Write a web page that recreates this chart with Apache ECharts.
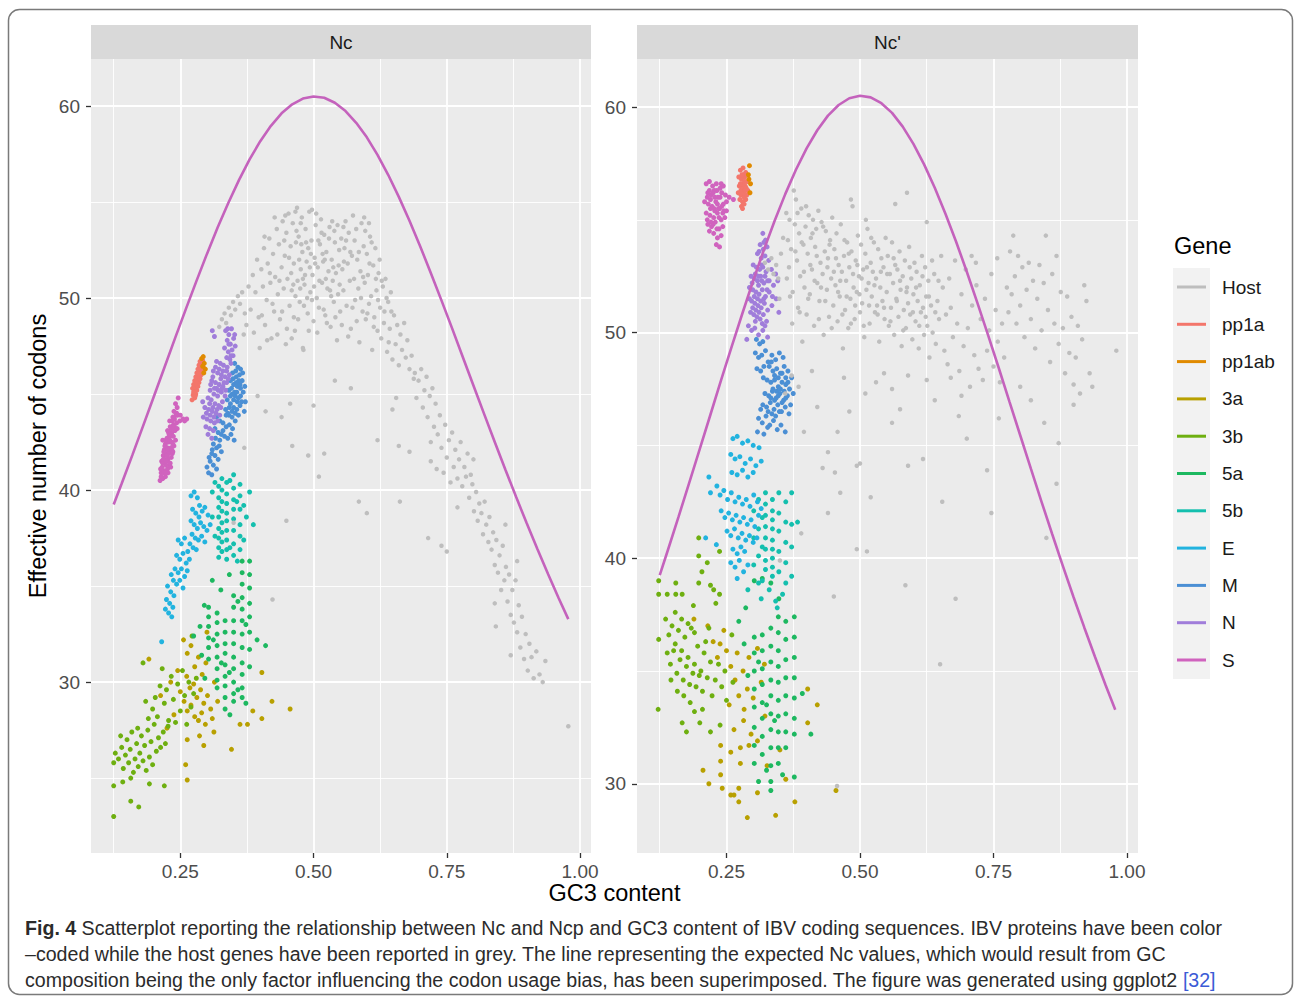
<!DOCTYPE html>
<html><head><meta charset="utf-8">
<script src="https://cdn.jsdelivr.net/npm/echarts@6/dist/echarts.min.js"></script>
<style>html,body{margin:0;padding:0;background:#fff}#c{width:1294px;height:999px}</style>
</head><body><div id="c"></div>
<script>
// ---------- tick values ----------
const xMajor = [0.25, 0.5, 0.75, 1.0];
const xMinor = [0.125, 0.375, 0.625, 0.875];
const yMajorNc = [30, 40, 50, 60];
const yMinorNc = [25, 35, 45, 55];
const yMajorNcp = [30, 40, 50, 60];
const yMinorNcp = [35, 45, 55];

// ---------- expected Nc curve (GC3 -> Nc) ----------
const curveGC3 = [0.125,0.14,0.16,0.18,0.2,0.22,0.24,0.26,0.28,0.3,0.32,0.34,0.36,0.38,0.4,0.42,0.44,0.46,0.48,0.5,0.52,0.54,0.56,0.58,0.6,0.62,0.64,0.66,0.68,0.7,0.72,0.74,0.76,0.78,0.8,0.82,0.84,0.86,0.88,0.9,0.92,0.94,0.96,0.978];
const curveNc = [39.25,40.34,41.82,43.33,44.85,46.37,47.9,49.4,50.87,52.3,53.67,54.95,56.14,57.22,58.17,58.97,59.62,60.09,60.39,60.5,60.43,60.17,59.74,59.13,58.37,57.46,56.42,55.27,54.03,52.7,51.31,49.88,48.42,46.93,45.45,43.97,42.5,41.06,39.65,38.27,36.93,35.63,34.37,33.28];

// ---------- panel "Nc" ----------
const nc_pp1a = [[0.272,44.7],[0.277,44.8],[0.274,44.95],[0.279,45.0],[0.276,45.15],[0.281,45.2],[0.273,45.3],[0.278,45.35],[0.283,45.4],[0.275,45.5],[0.28,45.55],[0.285,45.6],[0.277,45.7],[0.282,45.75],[0.287,45.8],[0.279,45.9],[0.284,45.95],[0.289,46.0],[0.281,46.1],[0.286,46.15],[0.291,46.2],[0.283,46.3],[0.288,46.35],[0.293,46.4],[0.285,46.5],[0.29,46.55],[0.287,46.7],[0.292,46.75],[0.275,45.1],[0.28,45.65],[0.284,46.05],[0.278,44.9]];
const nc_pp1ab = [[0.29,46.85],[0.293,46.95],[0.295,46.6],[0.297,46.3],[0.294,46.1],[0.292,46.45]];
const nc_3a = [[0.191,31.2],[0.256,32.2],[0.263,31.5],[0.27,31.9],[0.277,30.8],[0.284,31.3],[0.291,30.4],[0.298,31.0],[0.262,30.3],[0.268,29.7],[0.275,29.9],[0.281,29.2],[0.288,29.6],[0.294,28.9],[0.301,29.3],[0.307,28.6],[0.257,29.0],[0.263,28.5],[0.27,28.8],[0.277,28.2],[0.284,28.0],[0.29,28.4],[0.297,27.8],[0.31,28.1],[0.314,30.0],[0.32,29.0],[0.245,30.6],[0.25,29.5],[0.238,28.3],[0.232,30.0],[0.422,29.0],[0.456,28.6],[0.403,28.1],[0.403,30.5],[0.386,28.5],[0.362,27.8],[0.376,27.8],[0.346,26.5],[0.263,24.9],[0.26,25.7],[0.294,26.7],[0.313,27.4],[0.263,27.0],[0.225,27.6],[0.213,29.3],[0.3,32.6],[0.286,27.2]];
const nc_3b = [[0.125,25.8],[0.128,26.3],[0.134,26.0],[0.14,26.6],[0.143,25.5],[0.147,26.2],[0.15,27.0],[0.153,25.8],[0.156,26.5],[0.159,27.4],[0.162,25.3],[0.165,26.0],[0.168,26.8],[0.171,25.6],[0.174,26.3],[0.177,27.2],[0.18,25.9],[0.183,26.7],[0.186,25.4],[0.189,27.5],[0.192,26.1],[0.195,26.9],[0.198,25.7],[0.201,27.8],[0.205,26.4],[0.209,27.1],[0.213,26.6],[0.218,27.4],[0.222,26.8],[0.227,27.7],[0.157,25.0],[0.138,27.2],[0.17,27.6],[0.198,28.6],[0.203,29.2],[0.207,28.2],[0.212,29.8],[0.216,30.7],[0.22,28.9],[0.224,29.6],[0.228,28.0],[0.233,30.3],[0.237,29.1],[0.241,27.9],[0.245,29.9],[0.25,28.5],[0.254,30.6],[0.258,29.3],[0.262,27.8],[0.266,30.0],[0.27,28.7],[0.275,29.4],[0.28,30.2],[0.272,32.4],[0.19,28.1],[0.185,29.0],[0.125,23.0],[0.125,24.6],[0.157,23.8],[0.172,23.5],[0.192,24.7],[0.22,24.6],[0.142,24.8],[0.18,31.0]];
const nc_5a = [[0.303,33.9],[0.303,33.4],[0.303,32.9],[0.303,32.3],[0.303,31.8],[0.303,31.2],[0.319,33.6],[0.319,33.1],[0.319,32.5],[0.319,31.9],[0.319,31.3],[0.319,30.7],[0.319,30.1],[0.319,29.7],[0.334,33.2],[0.334,32.6],[0.334,32.0],[0.334,31.5],[0.334,30.9],[0.334,30.3],[0.334,29.8],[0.334,29.2],[0.334,28.6],[0.35,34.5],[0.35,33.9],[0.35,33.2],[0.35,32.6],[0.35,32.0],[0.35,31.3],[0.35,30.7],[0.35,30.0],[0.35,29.4],[0.35,29.0],[0.366,36.3],[0.366,35.7],[0.366,35.1],[0.366,34.4],[0.366,33.8],[0.366,33.2],[0.366,32.5],[0.366,31.8],[0.366,31.0],[0.366,30.4],[0.366,29.7],[0.366,29.2],[0.38,36.3],[0.38,35.6],[0.38,34.9],[0.38,34.1],[0.38,33.4],[0.38,32.6],[0.38,31.7],[0.38,30.8],[0.394,32.2],[0.41,31.9],[0.275,32.4],[0.287,32.9],[0.295,34.0],[0.31,35.3],[0.326,34.8],[0.342,35.6],[0.358,34.2],[0.373,33.0],[0.342,30.5],[0.358,29.6],[0.312,32.2],[0.327,31.0],[0.29,31.4],[0.296,30.2],[0.373,28.9],[0.343,28.3]];
const nc_5b = [[0.322,40.2],[0.322,39.6],[0.322,39.1],[0.322,38.6],[0.322,38.0],[0.322,37.5],[0.322,37.0],[0.322,36.5],[0.328,40.6],[0.328,40.0],[0.328,39.4],[0.328,38.9],[0.328,38.3],[0.328,37.8],[0.328,37.3],[0.328,36.8],[0.337,40.4],[0.337,39.8],[0.337,39.3],[0.337,38.8],[0.337,38.4],[0.337,37.9],[0.337,37.4],[0.337,36.9],[0.337,36.4],[0.35,40.8],[0.35,40.1],[0.35,39.5],[0.35,39.0],[0.35,38.5],[0.35,37.9],[0.35,37.2],[0.35,36.6],[0.362,40.3],[0.362,39.7],[0.362,39.0],[0.362,38.2],[0.362,37.6],[0.362,36.9],[0.31,39.9],[0.315,40.4],[0.343,40.5],[0.356,39.4],[0.369,39.2],[0.374,38.6],[0.38,39.9],[0.387,38.2],[0.315,37.6],[0.343,37.0],[0.357,36.3],[0.31,38.6],[0.369,37.4]];
const nc_E = [[0.27,39.7],[0.276,39.9],[0.282,39.6],[0.286,39.2],[0.273,39.0],[0.279,38.8],[0.285,38.6],[0.291,38.9],[0.296,39.1],[0.302,38.7],[0.27,38.4],[0.276,38.2],[0.282,38.0],[0.288,38.3],[0.294,38.1],[0.3,37.9],[0.306,38.2],[0.272,37.7],[0.278,37.5],[0.284,37.4],[0.29,37.6],[0.296,37.3],[0.268,37.2],[0.274,37.0],[0.28,36.9],[0.246,37.4],[0.252,37.2],[0.258,37.5],[0.264,36.8],[0.243,36.6],[0.249,36.4],[0.255,36.7],[0.261,36.2],[0.267,36.4],[0.24,35.9],[0.246,35.7],[0.252,35.9],[0.258,35.5],[0.237,35.3],[0.243,35.1],[0.249,35.3],[0.255,34.9],[0.233,35.6],[0.263,35.8],[0.226,35.0],[0.232,34.7],[0.238,34.5],[0.224,34.3],[0.23,34.1],[0.236,33.9],[0.228,33.6],[0.234,33.4],[0.222,33.8],[0.215,32.1]];
const nc_M = [[0.352,46.6],[0.358,46.4],[0.363,46.3],[0.348,46.1],[0.355,45.9],[0.361,46.0],[0.366,45.7],[0.344,45.7],[0.35,45.5],[0.357,45.4],[0.363,45.3],[0.368,45.1],[0.341,45.2],[0.347,45.0],[0.353,44.9],[0.359,44.8],[0.365,44.6],[0.338,44.7],[0.344,44.5],[0.35,44.3],[0.356,44.2],[0.362,44.4],[0.335,44.2],[0.341,43.9],[0.347,43.8],[0.353,43.6],[0.359,43.9],[0.37,44.1],[0.372,44.6],[0.36,45.7],[0.346,45.3],[0.352,45.1],[0.339,44.0],[0.318,43.8],[0.324,43.6],[0.33,43.5],[0.336,43.3],[0.342,43.4],[0.348,43.2],[0.315,43.2],[0.321,43.0],[0.327,42.9],[0.333,42.8],[0.339,42.7],[0.345,42.9],[0.351,42.6],[0.312,42.4],[0.318,42.2],[0.323,42.3],[0.309,41.9],[0.315,41.8],[0.321,41.6],[0.306,41.5],[0.312,41.3],[0.318,41.1],[0.3,41.2],[0.303,40.9],[0.309,40.8],[0.327,42.0],
[0.355,45.6],[0.362,45.5],[0.349,45.8],[0.356,45.1],[0.344,44.9],[0.35,44.7],[0.357,44.6],[0.363,44.9],[0.347,44.1],[0.353,44.0],[0.342,44.3],[0.336,43.9],[0.33,43.1],[0.324,42.6],[0.316,42.7],[0.354,46.2],[0.367,46.1],[0.371,45.4],[0.31,42.1],[0.304,41.7]];
const nc_N = [[0.335,48.3],[0.341,48.1],[0.346,48.4],[0.338,47.8],[0.344,47.6],[0.35,47.9],[0.333,47.4],[0.34,47.2],[0.347,47.3],[0.353,47.5],[0.337,46.9],[0.343,46.8],[0.349,47.0],[0.31,48.3],[0.314,48.0],[0.318,46.7],[0.325,46.6],[0.331,46.5],[0.338,46.4],[0.345,46.6],[0.312,46.2],[0.32,46.1],[0.327,46.0],[0.334,45.9],[0.342,46.0],[0.309,45.7],[0.316,45.6],[0.323,45.5],[0.33,45.4],[0.337,45.6],[0.306,45.2],[0.313,45.0],[0.32,44.9],[0.327,45.1],[0.334,44.9],[0.308,44.7],[0.315,44.5],[0.322,44.4],[0.329,44.6],[0.302,44.8],[0.318,45.3],[0.326,45.8],[0.311,45.9],[0.296,44.3],[0.303,44.2],[0.31,44.1],[0.317,44.0],[0.293,43.8],[0.3,43.7],[0.307,43.6],[0.314,43.5],[0.298,43.3],[0.305,43.2],[0.312,43.1],[0.302,42.9],[0.309,42.7],[0.324,43.9],[0.292,44.6],
[0.316,46.4],[0.323,46.3],[0.33,46.2],[0.337,46.2],[0.314,45.3],[0.321,45.2],[0.328,45.3],[0.335,45.2],[0.311,44.3],[0.319,44.2],[0.326,44.3],[0.306,43.9],[0.313,43.8],[0.32,43.6],[0.341,47.6],[0.345,47.0],[0.352,48.1],[0.339,48.4],[0.305,44.5],[0.299,44.0],[0.307,45.5],[0.332,45.6],[0.34,45.8]];
const nc_S = [[0.212,40.5],[0.217,40.6],[0.222,40.7],[0.214,40.9],[0.22,41.0],[0.226,41.1],[0.216,41.2],[0.223,41.3],[0.229,41.3],[0.215,41.5],[0.221,41.6],[0.227,41.6],[0.233,41.7],[0.218,41.8],[0.224,41.9],[0.23,42.0],[0.22,42.1],[0.226,42.2],[0.232,42.2],[0.238,42.3],[0.222,42.4],[0.228,42.5],[0.234,42.5],[0.225,42.7],[0.231,42.8],[0.237,42.8],[0.228,43.0],[0.234,43.0],[0.24,43.1],[0.231,43.3],[0.237,43.4],[0.243,43.5],[0.249,43.6],[0.255,43.7],[0.262,43.7],[0.236,43.8],[0.242,43.9],[0.238,44.1],[0.244,44.3],[0.241,44.5],[0.246,44.8],[0.219,40.9],[0.235,41.9],[0.241,42.6],[0.213,41.1],[0.227,40.9],
[0.217,41.4],[0.224,41.5],[0.231,41.4],[0.219,42.0],[0.227,42.1],[0.234,42.1],[0.223,42.6],[0.23,42.6],[0.236,42.4],[0.226,43.1],[0.233,43.2],[0.239,43.3],[0.23,43.6],[0.239,43.7],[0.245,43.9],[0.214,40.7],[0.222,40.9],[0.218,41.6],[0.228,41.9],[0.232,41.2],[0.221,42.3],[0.229,42.9],[0.235,43.6],[0.243,44.0],[0.25,43.9],[0.258,43.6],[0.225,41.8],[0.217,42.6],[0.236,42.0],[0.244,43.2]];
const nc_Host = [[0.323,48.5],[0.328,48.9],[0.333,49.2],[0.336,48.7],[0.341,49.5],[0.345,49.1],[0.349,49.8],[0.353,49.4],[0.358,50.1],[0.362,49.7],[0.366,50.3],[0.371,49.2],[0.374,48.6],[0.369,48.1],[0.378,50.6],
[0.382,49.4],[0.386,51.2],[0.388,48.2],[0.391,50.3],[0.394,52.0],[0.397,49.0],[0.399,47.4],[0.402,51.5],[0.405,50.6],[0.407,52.6],[0.409,48.6],[0.412,49.9],[0.414,51.8],[0.417,53.1],[0.419,50.8],[0.421,47.9],[0.424,52.3],[0.426,49.3],[0.428,51.1],[0.431,53.6],[0.433,50.2],[0.435,52.8],[0.437,48.9],[0.44,51.6],[0.442,54.0],[0.444,50.5],[0.446,52.2],[0.448,47.6],[0.449,53.4],
[0.451,51.0],[0.453,54.4],[0.455,49.6],[0.457,52.7],[0.459,50.4],[0.461,53.9],[0.463,51.8],[0.465,48.3],[0.467,52.9],[0.469,54.7],[0.47,50.9],[0.472,53.2],[0.474,49.8],[0.476,51.5],[0.478,54.2],[0.479,52.4],[0.481,47.3],[0.483,50.7],[0.485,53.6],[0.487,51.9],[0.489,49.2],[0.49,52.6],[0.492,54.5],[0.494,50.3],[0.496,53.0],[0.498,51.2],[0.5,48.8],[0.502,52.1],[0.504,53.8],[0.506,50.0],[0.508,51.6],[0.51,49.5],[0.512,52.8],[0.514,54.1],[0.516,50.8],[0.518,51.9],[0.52,53.3],[0.522,49.1],[0.524,52.4],[0.526,50.5],[0.528,51.4],[0.53,53.7],[0.532,48.5],[0.534,52.0],[0.536,50.9],[0.538,49.8],[0.54,52.9],[0.542,51.3],[0.544,47.8],[0.546,50.2],[0.548,52.5],[0.55,49.3],
[0.458,51.3],[0.466,50.1],[0.473,52.0],[0.48,51.0],[0.486,52.9],[0.493,51.6],[0.501,50.6],[0.509,53.0],[0.517,52.3],[0.523,51.0],[0.531,50.4],[0.539,53.5],[0.547,51.7],[0.463,49.0],[0.488,50.0],
[0.403,49.1],[0.408,53.2],[0.413,47.8],[0.418,51.3],[0.423,49.7],[0.427,54.2],[0.432,48.1],[0.436,50.9],[0.441,49.3],[0.445,53.0],[0.45,48.4],[0.454,52.1],[0.459,47.9],[0.462,50.7],[0.468,53.5],[0.471,48.9],[0.475,50.5],[0.477,52.8],[0.482,49.6],[0.484,51.2],[0.491,48.3],[0.495,52.3],[0.497,49.9],[0.503,51.8],[0.507,48.2],[0.511,50.9],[0.515,53.4],[0.519,49.4],[0.521,52.0],[0.525,48.7],[0.529,53.1],[0.533,50.1],[0.537,51.6],[0.541,49.0],[0.545,53.8],[0.549,50.7],[0.553,48.6],[0.557,51.9],[0.561,53.0],[0.565,48.0],[0.569,52.4],[0.573,49.5],[0.577,53.0],[0.581,48.8],[0.585,52.4],[0.589,50.0],[0.593,51.1],[0.597,53.5],[0.601,49.2],[0.605,51.8],[0.609,52.9],[0.613,48.5],[0.617,51.0],[0.621,49.9],[0.624,52.0],[0.628,50.9],[0.633,49.3],[0.637,50.0],[0.641,47.7],[0.646,49.3],
[0.447,54.3],[0.466,54.5],[0.476,53.9],[0.497,54.6],[0.505,54.4],[0.535,54.0],[0.556,53.7],[0.595,54.2],[0.604,53.9],
[0.552,53.1],[0.554,51.5],[0.556,50.4],[0.558,52.6],[0.56,54.0],[0.562,49.6],[0.564,51.8],[0.566,53.4],[0.568,50.9],[0.57,48.4],[0.572,52.2],[0.574,54.3],[0.576,51.0],[0.578,49.9],[0.58,53.6],[0.582,52.0],[0.584,50.5],[0.586,47.7],[0.588,51.4],[0.59,53.9],[0.592,49.3],[0.594,52.7],[0.596,50.8],[0.598,48.9],[0.6,52.3],[0.602,51.2],[0.604,49.7],[0.606,53.2],[0.608,50.1],[0.61,47.3],[0.612,51.7],[0.614,49.0],[0.616,52.6],[0.618,50.4],[0.62,48.3],
[0.622,51.3],[0.625,49.5],[0.627,47.9],[0.63,50.6],[0.632,48.7],[0.635,51.0],[0.638,47.2],[0.64,49.8],[0.643,48.4],[0.645,50.3],[0.648,46.8],[0.651,49.1],[0.654,47.6],[0.657,48.6],[0.66,46.5],[0.663,48.1],[0.666,47.3],[0.67,48.7],[0.673,46.9],[0.676,47.8],[0.68,46.3],[0.684,47.0],[0.688,45.8],
[0.69,46.1],[0.693,44.8],[0.697,45.7],[0.702,46.3],[0.705,44.3],[0.708,45.2],[0.712,45.9],[0.714,43.8],[0.718,44.9],[0.72,41.5],[0.723,45.3],[0.726,43.3],[0.729,44.5],[0.731,41.1],[0.733,42.9],[0.737,43.9],[0.74,42.2],[0.744,40.9],[0.747,43.4],[0.75,41.7],[0.754,42.6],[0.757,40.4],[0.76,43.0],[0.763,41.2],[0.766,42.1],[0.77,40.6],[0.773,41.6],[0.776,42.5],[0.779,40.2],[0.783,41.2],[0.786,40.7],[0.789,41.9],[0.792,39.6],[0.795,40.8],[0.798,40.3],[0.801,38.9],[0.805,39.9],[0.808,38.4],[0.811,39.3],[0.815,38.8],[0.818,37.7],[0.821,39.4],[0.824,38.2],[0.828,37.3],[0.83,38.6],[0.834,36.9],[0.837,37.8],[0.84,36.1],[0.843,37.4],[0.846,35.7],[0.849,36.6],[0.852,34.8],[0.855,37.1],[0.858,35.3],[0.861,36.0],[0.864,34.2],[0.867,35.6],[0.87,33.5],[0.873,34.8],[0.876,33.1],[0.879,35.3],[0.882,32.6],[0.885,34.0],[0.888,31.8],[0.891,33.4],[0.895,31.2],[0.898,32.5],[0.902,30.6],[0.905,32.0],[0.909,31.3],[0.913,30.2],[0.918,31.6],[0.924,30.4],[0.93,30.0],[0.935,31.1],[0.978,27.7],[0.8,41.6],[0.77,39.1],[0.72,42.5],[0.86,38.2],[0.882,36.3],
[0.35,38.3],[0.37,42.2],[0.423,34.3],[0.44,43.8],[0.449,38.4],[0.456,44.5],[0.46,42.3],[0.48,47.4],[0.49,41.8],[0.5,44.4],[0.51,40.7],[0.52,41.9],[0.54,45.7],[0.57,45.3],[0.585,39.4],[0.6,38.8],[0.62,42.6],[0.648,44.2],[0.655,44.8],[0.66,42.3],[0.662,39.4],[0.68,42.0],[0.74,37.1],[0.75,36.8],[0.84,34.1],[0.842,32.9],[0.87,31.4],[0.715,37.5],[0.41,44.1],[0.395,44.9]];

// ---------- panel "Nc'" ----------
const ncp_pp1a = [[0.276,57.2],[0.281,57.3],[0.286,57.1],[0.273,56.9],[0.278,56.8],[0.284,56.9],[0.289,56.7],[0.274,56.5],[0.279,56.4],[0.285,56.5],[0.29,56.3],[0.272,56.2],[0.277,56.1],[0.283,56.0],[0.288,56.1],[0.275,55.9],[0.28,55.8],[0.286,55.9],[0.278,55.6],[0.283,55.7],[0.281,56.6],[0.287,56.4],[0.276,56.6],[0.282,57.0],[0.279,57.0],[0.284,56.7],[0.277,56.3],[0.282,56.2],[0.28,55.5],[0.285,56.3]];
const ncp_pp1ab = [[0.293,57.4],[0.295,56.6],[0.294,56.2],[0.291,57.0],[0.292,56.8]];
const ncp_3a = [[0.189,37.3],[0.206,30.6],[0.217,30.0],[0.215,37.0],[0.239,31.7],[0.239,31.0],[0.239,30.4],[0.242,29.8],[0.258,31.4],[0.258,29.5],[0.264,29.5],[0.273,29.2],[0.273,29.8],[0.276,31.6],[0.276,30.9],[0.289,28.5],[0.292,31.7],[0.308,31.9],[0.308,29.6],[0.326,30.8],[0.342,28.6],[0.361,30.2],[0.378,29.2],[0.402,34.2],[0.402,32.7],[0.42,33.5],[0.455,29.7],[0.258,35.2],[0.266,34.6],[0.273,33.9],[0.281,35.0],[0.289,34.2],[0.255,33.5],[0.27,35.8],[0.283,33.3],[0.292,35.6],[0.225,36.3],[0.233,35.6],[0.245,36.8],[0.25,35.9],[0.238,36.2],[0.3,33.8],[0.315,34.5],[0.308,36.0],[0.321,35.3],[0.264,32.4],[0.282,32.8],[0.296,32.2],[0.322,33.0],[0.35,31.5]];
const ncp_3b = [[0.136,37.3],[0.142,36.6],[0.148,37.0],[0.154,36.2],[0.16,36.8],[0.166,35.9],[0.172,36.5],[0.178,35.6],[0.184,36.9],[0.19,35.3],[0.196,36.1],[0.202,35.0],[0.208,35.8],[0.214,34.7],[0.22,35.4],[0.139,35.8],[0.145,35.3],[0.151,35.9],[0.157,34.9],[0.163,35.5],[0.169,34.6],[0.175,35.2],[0.181,34.4],[0.187,34.9],[0.193,34.3],[0.199,34.8],[0.205,34.1],[0.211,36.3],[0.217,36.9],[0.154,37.6],[0.166,37.3],[0.178,37.1],[0.19,36.7],[0.146,34.6],[0.158,34.1],[0.17,33.9],[0.182,33.6],[0.223,33.9],[0.229,34.6],[0.235,35.3],[0.241,34.3],[0.247,35.0],[0.123,39.0],[0.123,38.4],[0.139,38.4],[0.155,38.9],[0.155,38.4],[0.167,38.4],[0.198,40.9],[0.198,40.1],[0.198,38.9],[0.204,39.4],[0.214,39.8],[0.22,38.8],[0.226,38.6],[0.23,38.0],[0.237,40.3],[0.237,38.4],[0.123,36.4],[0.188,37.9],[0.26,36.6],[0.122,33.3],[0.167,32.7],[0.2,32.7],[0.22,32.3],[0.238,32.6],[0.19,33.2],[0.175,32.3],[0.205,33.3],[0.25,33.7],[0.262,34.5]];
const ncp_5a = [[0.302,36.5],[0.302,35.8],[0.302,35.0],[0.302,34.2],[0.302,33.4],[0.302,32.5],[0.302,31.7],[0.302,30.9],[0.317,36.6],[0.317,35.9],[0.317,35.1],[0.317,34.4],[0.317,33.6],[0.317,32.9],[0.317,32.1],[0.317,31.3],[0.333,36.9],[0.333,36.1],[0.333,35.4],[0.333,34.6],[0.333,33.9],[0.333,33.1],[0.333,32.4],[0.333,31.6],[0.333,30.8],[0.333,30.1],[0.333,29.7],[0.347,37.4],[0.347,36.7],[0.347,35.9],[0.347,35.2],[0.347,34.5],[0.347,33.7],[0.347,33.0],[0.347,32.3],[0.347,31.6],[0.347,30.9],[0.361,37.2],[0.361,36.4],[0.361,35.5],[0.361,34.7],[0.361,33.9],[0.361,33.1],[0.361,32.3],[0.361,31.6],[0.377,37.4],[0.377,36.5],[0.377,35.6],[0.377,34.7],[0.377,33.8],[0.377,32.9],[0.377,32.2],[0.377,30.3],[0.392,34.0],[0.408,32.2],[0.273,37.2],[0.286,37.8],[0.302,39.0],[0.317,39.1],[0.333,38.9],[0.348,38.2],[0.29,34.8],[0.283,36.2],[0.31,35.4],[0.325,33.5],[0.34,32.8],[0.355,30.4],[0.325,30.6],[0.31,30.1]];
const ncp_5b = [[0.323,42.9],[0.323,42.4],[0.323,41.9],[0.323,41.4],[0.323,40.9],[0.323,40.4],[0.323,39.9],[0.323,39.5],[0.336,42.1],[0.336,41.7],[0.336,41.3],[0.336,40.8],[0.336,40.4],[0.336,40.0],[0.336,39.6],[0.336,39.2],[0.336,42.6],[0.348,42.9],[0.348,42.0],[0.348,41.2],[0.348,40.3],[0.348,39.4],[0.361,42.5],[0.361,41.6],[0.361,40.7],[0.361,39.8],[0.361,38.9],[0.372,42.9],[0.372,41.5],[0.372,40.5],[0.372,39.2],[0.383,41.6],[0.301,42.1],[0.301,40.9],[0.301,39.7],[0.31,42.6],[0.31,41.3],[0.31,40.1],[0.31,38.9],[0.317,41.8],[0.317,40.5],[0.317,39.0],[0.315,38.2],[0.33,38.6],[0.342,38.1],[0.355,38.4],[0.345,37.8],[0.29,38.6]];
const ncp_E = [[0.262,45.3],[0.27,45.4],[0.28,45.1],[0.29,45.2],[0.3,45.0],[0.311,44.9],[0.258,44.6],[0.266,44.4],[0.275,44.5],[0.285,44.2],[0.295,44.4],[0.305,44.1],[0.315,44.3],[0.26,43.8],[0.27,43.7],[0.28,43.9],[0.29,43.6],[0.3,43.8],[0.217,43.6],[0.22,42.9],[0.232,43.2],[0.238,42.8],[0.245,43.0],[0.252,42.6],[0.259,42.9],[0.266,42.5],[0.273,42.7],[0.28,42.4],[0.287,42.6],[0.294,42.3],[0.301,42.8],[0.308,42.5],[0.315,42.2],[0.24,42.1],[0.247,41.8],[0.254,42.0],[0.261,41.7],[0.268,41.9],[0.275,41.6],[0.282,41.8],[0.289,41.5],[0.296,41.7],[0.303,41.4],[0.31,41.9],[0.251,41.2],[0.258,41.0],[0.265,41.3],[0.272,40.9],[0.279,41.1],[0.286,40.8],[0.293,41.0],[0.3,40.7],[0.307,40.9],[0.262,40.4],[0.27,40.2],[0.277,40.5],[0.284,40.3],[0.211,40.9],[0.231,40.6],[0.258,39.8],[0.266,39.6],[0.274,39.9],[0.282,39.4],[0.29,39.7],[0.27,39.1]];
const ncp_M = [[0.306,49.7],[0.312,49.5],[0.318,49.6],[0.304,49.1],[0.31,48.9],[0.316,49.0],[0.323,49.2],[0.307,48.4],[0.314,48.3],[0.32,48.5],[0.328,48.7],[0.335,49.0],[0.342,48.8],[0.349,49.1],[0.356,48.9],[0.33,48.5],[0.337,48.3],[0.344,48.4],[0.351,48.2],[0.358,48.5],[0.365,48.3],[0.372,48.0],[0.326,47.9],[0.333,47.8],[0.34,47.9],[0.347,47.6],[0.354,47.8],[0.361,47.7],[0.368,47.5],[0.375,47.3],[0.322,47.3],[0.329,47.2],[0.336,47.4],[0.343,47.1],[0.35,47.3],[0.357,47.0],[0.364,47.2],[0.318,46.8],[0.325,46.7],[0.332,46.9],[0.339,46.6],[0.346,46.8],[0.353,46.5],[0.36,46.7],[0.367,46.4],[0.31,46.2],[0.317,46.0],[0.324,46.3],[0.331,45.9],[0.338,46.1],[0.345,45.7],[0.308,45.6],[0.32,45.5],[0.352,45.9],[0.36,45.6],
[0.34,48.1],[0.347,48.0],[0.354,48.2],[0.361,48.0],[0.337,47.5],[0.344,47.4],[0.351,47.5],[0.358,47.4],[0.365,47.8],[0.333,47.1],[0.34,47.0],[0.347,47.2],[0.354,46.9],[0.361,47.1],[0.328,46.5],[0.335,46.4],[0.342,46.3],[0.349,46.5],[0.314,46.6],[0.327,45.8],[0.37,46.8],[0.334,48.7],[0.319,48.0]];
const ncp_N = [[0.318,54.4],[0.323,54.1],[0.313,53.9],[0.319,53.7],[0.326,53.8],[0.308,53.5],[0.315,53.3],[0.322,53.4],[0.329,53.2],[0.3,53.0],[0.306,52.9],[0.312,52.8],[0.318,52.9],[0.324,52.7],[0.334,52.8],[0.342,52.6],[0.296,52.5],[0.302,52.4],[0.308,52.3],[0.314,52.5],[0.32,52.2],[0.327,52.3],[0.338,52.1],[0.346,52.3],[0.293,52.0],[0.299,51.9],[0.305,51.8],[0.311,51.7],[0.317,51.9],[0.323,51.6],[0.33,51.8],[0.297,51.4],[0.303,51.3],[0.309,51.2],[0.315,51.1],[0.321,51.3],[0.327,51.0],[0.335,51.2],[0.301,50.8],[0.307,50.7],[0.313,50.6],[0.319,50.8],[0.325,50.5],[0.295,50.9],[0.343,51.5],[0.348,50.9],[0.291,50.3],[0.297,50.1],[0.303,50.2],[0.31,49.9],[0.318,50.1],[0.327,49.8],[0.288,49.7],
[0.304,52.6],[0.31,52.5],[0.316,52.3],[0.322,52.5],[0.302,51.6],[0.308,51.5],[0.314,51.4],[0.32,51.5],[0.305,51.0],[0.311,50.9],[0.317,50.4],[0.31,52.1],[0.326,51.9],[0.299,51.1],[0.293,51.5],[0.298,52.2],[0.316,53.0],[0.311,53.6],[0.32,54.0],[0.33,52.3],[0.336,51.6],[0.304,50.5],[0.322,50.3]];
const ncp_S = [[0.212,56.6],[0.218,56.7],[0.224,56.5],[0.231,56.6],[0.238,56.4],[0.244,56.5],[0.215,56.2],[0.221,56.1],[0.227,56.3],[0.234,56.0],[0.241,56.2],[0.248,56.1],[0.255,56.0],[0.263,55.9],[0.209,55.8],[0.216,55.7],[0.223,55.6],[0.23,55.8],[0.237,55.5],[0.244,55.7],[0.25,55.4],[0.212,55.3],[0.219,55.2],[0.226,55.1],[0.233,55.3],[0.24,55.0],[0.247,55.1],[0.215,54.8],[0.222,54.7],[0.229,54.9],[0.236,54.6],[0.243,54.7],[0.226,54.4],[0.233,54.2],[0.24,54.3],[0.231,53.9],[0.237,53.8],[0.22,55.9],[0.235,55.5],[0.228,56.0],[0.245,55.4],[0.218,54.5],
[0.218,56.3],[0.225,56.2],[0.232,56.3],[0.238,56.0],[0.22,55.5],[0.227,55.5],[0.233,55.7],[0.241,55.6],[0.214,55.0],[0.221,54.9],[0.228,55.4],[0.236,55.1],[0.243,55.3],[0.225,54.8],[0.232,54.6],[0.214,56.0],[0.24,56.6],[0.25,55.8]];
const ncp_Host = [[0.322,53.1],[0.328,52.8],[0.334,53.3],[0.338,52.6],[0.343,53.0],[0.347,52.4],[0.352,53.5],[0.356,54.2],[0.349,51.5],
[0.362,55.3],[0.365,54.1],[0.367,52.9],[0.369,51.6],[0.371,53.7],[0.373,50.4],[0.376,56.3],[0.378,54.8],[0.38,55.9],[0.382,53.2],[0.384,51.1],[0.386,54.4],[0.388,52.5],[0.39,55.5],[0.392,49.6],[0.394,53.9],[0.396,52.0],[0.398,54.7],[0.4,50.8],[0.402,53.5],[0.404,55.2],[0.406,51.7],[0.408,54.2],[0.41,52.8],[0.412,55.0],[0.414,50.3],[0.416,53.8],[0.418,54.6],[0.42,52.2],[0.422,55.4],[0.424,51.4],[0.426,53.1],[0.428,54.9],[0.43,52.6],[0.432,49.9],[0.434,53.6],[0.436,54.5],[0.438,51.9],[0.44,53.3],[0.442,50.7],[0.444,54.1],[0.446,52.4],[0.448,55.1],[0.45,51.2],
[0.452,53.7],[0.454,52.1],[0.456,54.4],[0.458,50.5],[0.46,53.0],[0.462,51.6],[0.464,54.8],[0.466,52.7],[0.468,49.3],[0.47,53.4],[0.472,51.0],[0.474,52.3],[0.476,54.0],[0.478,50.2],[0.48,52.9],[0.482,51.5],[0.484,53.6],[0.486,55.6],[0.488,52.0],[0.49,50.6],[0.492,53.2],[0.494,51.8],[0.496,54.3],[0.498,52.5],[0.5,50.9],[0.502,53.9],[0.504,51.3],[0.506,52.8],[0.508,49.8],[0.51,53.5],[0.512,51.9],[0.514,54.6],[0.516,52.2],[0.518,50.4],[0.52,53.1],[0.522,51.6],[0.524,52.7],[0.526,54.0],[0.528,50.9],[0.53,52.4],[0.532,51.2],[0.534,53.7],[0.536,49.6],[0.538,52.0],[0.54,53.3],[0.542,51.4],[0.544,52.9],[0.546,50.6],[0.548,54.2],[0.55,51.8],
[0.588,56.2],[0.566,55.7],[0.483,55.9],[0.511,55.0],[0.625,54.9],
[0.363,52.4],[0.368,55.0],[0.374,51.8],[0.379,53.6],[0.383,55.3],[0.387,50.9],[0.391,54.0],[0.395,52.7],[0.399,55.6],[0.403,51.5],[0.407,53.0],[0.411,54.4],[0.415,52.3],[0.419,53.4],[0.423,50.6],[0.427,52.0],[0.431,54.7],[0.435,51.4],[0.439,52.9],[0.443,53.9],[0.447,50.2],[0.451,52.7],[0.455,53.3],[0.459,51.8],[0.463,52.3],[0.467,50.8],[0.471,54.1],[0.475,51.6],[0.479,53.5],[0.483,50.4],[0.487,52.6],[0.491,51.2],[0.495,53.0],[0.499,51.7],[0.503,52.4],[0.507,50.3],[0.513,52.9],[0.517,51.2],[0.521,54.2],[0.527,52.1],[0.533,50.8],[0.539,52.7],[0.545,51.1],[0.551,52.6],[0.557,50.5],[0.563,53.3],[0.569,51.4],[0.575,52.3],[0.581,50.1],[0.587,51.8],[0.593,52.9],[0.599,50.9],[0.605,52.0],[0.611,50.3],[0.617,52.5],[0.623,50.7],[0.629,51.6],[0.635,53.2],[0.641,50.9],[0.647,52.3],
[0.552,53.4],[0.554,50.3],[0.556,52.6],[0.558,51.1],[0.56,54.0],[0.562,52.2],[0.564,49.9],[0.566,53.0],[0.568,51.5],[0.57,52.8],[0.572,50.7],[0.574,53.6],[0.576,51.9],[0.578,49.4],[0.58,52.5],[0.582,51.0],[0.584,53.2],[0.586,50.2],[0.588,52.0],[0.59,51.3],[0.592,53.8],[0.594,50.8],[0.596,52.4],[0.598,49.7],[0.6,51.7],[0.602,53.1],[0.604,50.5],[0.606,52.7],[0.608,51.4],[0.61,49.3],[0.612,52.1],[0.614,50.9],[0.616,53.4],[0.618,51.1],[0.62,49.9],[0.622,52.9],[0.624,51.6],[0.626,50.3],[0.628,52.3],[0.63,48.9],[0.633,51.2],[0.636,50.0],[0.639,52.6],[0.642,49.5],[0.645,51.4],[0.648,50.6],
[0.652,53.4],[0.655,52.0],[0.658,49.2],[0.661,50.8],[0.664,48.6],[0.667,52.4],[0.67,51.1],[0.674,49.8],[0.678,53.2],[0.682,50.4],[0.686,48.3],[0.69,51.7],[0.694,49.4],[0.698,52.8],[0.702,50.2],[0.706,47.6],[0.71,51.2],[0.714,49.0],[0.718,52.1],[0.722,48.4],[0.726,50.6],[0.73,47.9],[0.734,51.5],[0.738,49.2],[0.742,50.1],[0.746,52.6],[0.75,48.5],[0.754,51.0],[0.758,49.6],[0.762,47.8],[0.766,50.4],[0.77,48.9],[0.709,53.4],[0.717,53.1],[0.757,53.3],
[0.775,52.0],[0.778,50.9],[0.781,53.6],[0.784,51.7],[0.787,54.3],[0.79,52.5],[0.793,50.4],[0.796,53.4],[0.8,51.2],[0.804,52.9],[0.808,49.8],[0.812,51.9],[0.816,53.1],[0.82,50.6],[0.824,52.3],[0.828,49.3],[0.832,51.5],[0.836,53.0],[0.84,50.1],[0.844,52.2],[0.848,54.3],[0.852,51.0],[0.856,48.7],[0.86,52.6],[0.864,50.4],[0.868,53.4],[0.872,49.5],[0.876,51.8],[0.88,50.2],[0.884,48.2],[0.888,51.6],[0.892,49.1],[0.896,50.7],[0.9,47.7],[0.904,48.9],[0.908,50.3],[0.912,47.3],[0.916,49.7],[0.92,52.1],[0.924,51.4],[0.93,48.2],[0.935,47.6],[0.98,49.2],
[0.36,47.3],[0.372,48.1],[0.385,47.6],[0.395,45.6],[0.41,48.3],[0.42,46.7],[0.44,44.7],[0.453,43.8],[0.458,45.6],[0.463,42.9],[0.47,48.0],[0.48,46.5],[0.494,44.1],[0.5,44.2],[0.51,47.3],[0.52,42.7],[0.513,40.3],[0.53,47.8],[0.545,48.2],[0.56,47.5],[0.575,46.6],[0.59,48.1],[0.618,44.4],[0.625,47.9],[0.64,47.0],[0.654,42.5],[0.67,48.0],[0.685,46.3],[0.69,47.2],[0.7,45.3],[0.738,43.9],[0.746,42.0],[0.76,46.2],[0.8,47.6],[0.82,47.0],[0.845,46.0],[0.849,40.9],[0.868,43.3],[0.872,45.1],[0.9,46.8],[0.451,38.3],[0.44,42.0],[0.35,39.9],[0.494,40.4],[0.679,38.2],[0.65,35.3],[0.457,29.9],[0.39,41.1],[0.43,44.0],[0.56,46.0],[0.59,44.1],[0.585,38.8]];

// ---------- genes, colours ----------
const geneNames = ['pp1a','pp1ab','3a','3b','5a','5b','E','M','N','S'];
const geneColors = ['#F3766B','#E08A00','#B8A000','#6EAF10','#1DB860','#14BFAE','#22B3DF','#4B8FD4','#A07DDA','#D063BE'];
const hostColor = '#BEBEBE';
const curveColor = '#C462BC';
const ncSets = [nc_pp1a, nc_pp1ab, nc_3a, nc_3b, nc_5a, nc_5b, nc_E, nc_M, nc_N, nc_S];
const ncpSets = [ncp_pp1a, ncp_pp1ab, ncp_3a, ncp_3b, ncp_5a, ncp_5b, ncp_E, ncp_M, ncp_N, ncp_S];

const FONT = "'Liberation Sans', Arial, Helvetica, sans-serif";
const chart = echarts.init(document.getElementById('c'), null, {renderer: 'svg'});

const X_MIN = 0.0824, X_MAX = 1.0206;
const grids = [
  {left: 91, top: 59, width: 500, height: 794, show: true, backgroundColor: '#EBEBEB', borderWidth: 0},
  {left: 637, top: 59, width: 501, height: 794, show: true, backgroundColor: '#EBEBEB', borderWidth: 0}
];
const yRanges = [[21.1, 62.45], [26.93, 62.13]];
const yMajors = [yMajorNc, yMajorNcp];
const yMinors = [yMinorNc, yMinorNcp];

const xAxes = [], yAxes = [];
for (let p = 0; p < 2; p++) {
  xAxes.push({
    type: 'value', gridIndex: p, min: X_MIN, max: X_MAX,
    axisLine: {show: false},
    axisTick: {show: true, length: 5, customValues: xMajor, lineStyle: {color: '#333', width: 1.3}},
    axisLabel: {show: true, customValues: xMajor, margin: 9, color: '#4D4D4D', fontSize: 19, fontFamily: FONT,
      formatter: v => v.toFixed(2)},
    splitLine: {show: true, lineStyle: {color: '#FFFFFF', width: 1.8}}
  });
  xAxes.push({
    type: 'value', gridIndex: p, min: X_MIN, max: X_MAX,
    axisLine: {show: false}, axisLabel: {show: false, customValues: xMinor},
    axisTick: {show: false, customValues: xMinor},
    splitLine: {show: true, lineStyle: {color: '#FFFFFF', width: 0.9}}
  });
  yAxes.push({
    type: 'value', gridIndex: p, min: yRanges[p][0], max: yRanges[p][1],
    axisLine: {show: false},
    axisTick: {show: true, length: 5, customValues: yMajors[p], lineStyle: {color: '#333', width: 1.3}},
    axisLabel: {show: true, customValues: yMajors[p], margin: 11, color: '#4D4D4D', fontSize: 19, fontFamily: FONT},
    splitLine: {show: true, lineStyle: {color: '#FFFFFF', width: 1.8}}
  });
  yAxes.push({
    type: 'value', gridIndex: p, min: yRanges[p][0], max: yRanges[p][1],
    axisLine: {show: false}, axisLabel: {show: false, customValues: yMinors[p]},
    axisTick: {show: false, customValues: yMinors[p]},
    splitLine: {show: true, lineStyle: {color: '#FFFFFF', width: 0.9}}
  });
}

const series = [];
const curveData = curveGC3.map((g, i) => [g, curveNc[i]]);
for (let p = 0; p < 2; p++) {
  const sets = p === 0 ? ncSets : ncpSets;
  geneNames.forEach((g, i) => {
    series.push({
      type: 'scatter', name: g, xAxisIndex: 2 * p, yAxisIndex: 2 * p, data: sets[i],
      symbol: 'circle', symbolSize: 5, silent: true, itemStyle: {color: geneColors[i], opacity: 1},
      emphasis: {disabled: true}, z: 3
    });
  });
  series.push({
    type: 'scatter', name: 'Host', xAxisIndex: 2 * p, yAxisIndex: 2 * p, data: p === 0 ? nc_Host : ncp_Host,
    symbol: 'circle', symbolSize: 4.5, silent: true, itemStyle: {color: hostColor, opacity: 1},
    emphasis: {disabled: true}, z: 4
  });
  series.push({
    type: 'line', name: 'expected', xAxisIndex: 2 * p, yAxisIndex: 2 * p, data: curveData,
    showSymbol: false, symbol: 'none', smooth: false, silent: true,
    lineStyle: {color: curveColor, width: 2.6}, itemStyle: {color: curveColor}, z: 5
  });
}

const caption = '{b|Fig. 4} Scatterplot reporting the relationship between Nc and Ncp and GC3 content of IBV coding sequences. IBV proteins have been color\n' +
  '–coded while the host genes have been reported in grey. The line representing the expected Nc values, which would result from GC\n' +
  'composition being the only factor influencing the codon usage bias, has been superimposed. The figure was generated using ggplot2 {l|[32]}';
const CAP = 19.6;

const option = {
  animation: false,
  backgroundColor: '#FFFFFF',
  grid: grids,
  xAxis: xAxes,
  yAxis: yAxes,
  legend: {
    data: ['Host'].concat(geneNames),
    orient: 'vertical', left: 1177, top: 277, padding: 0,
    itemWidth: 29, itemHeight: 3, itemGap: 17.3, icon: 'rect', selectedMode: false,
    textStyle: {fontSize: 19, color: '#1A1A1A', fontFamily: FONT, lineHeight: 20, padding: [0, 0, 0, 11]}
  },
  graphic: [
    {type: 'rect', silent: true, z: -5, shape: {x: 8.5, y: 9.5, width: 1284, height: 985, r: 11},
      style: {fill: 'none', stroke: '#7A7A7A', lineWidth: 1.5}},
    {type: 'rect', silent: true, shape: {x: 91, y: 25, width: 500, height: 34}, style: {fill: '#D9D9D9'}},
    {type: 'rect', silent: true, shape: {x: 637, y: 25, width: 501, height: 34}, style: {fill: '#D9D9D9'}},
    {type: 'text', silent: true, x: 341, y: 42, style: {text: 'Nc', fill: '#1A1A1A', fontSize: 19, fontFamily: FONT, align: 'center', verticalAlign: 'middle'}},
    {type: 'text', silent: true, x: 887.5, y: 42, style: {text: "Nc'", fill: '#1A1A1A', fontSize: 19, fontFamily: FONT, align: 'center', verticalAlign: 'middle'}},
    {type: 'text', silent: true, x: 38, y: 456, rotation: Math.PI / 2, style: {text: 'Effective number of codons', fill: '#000', fontSize: 23.5, fontFamily: FONT, align: 'center', verticalAlign: 'middle'}},
    {type: 'text', silent: true, x: 614.5, y: 893, style: {text: 'GC3 content', fill: '#000', fontSize: 23.5, fontFamily: FONT, align: 'center', verticalAlign: 'middle'}},
    {type: 'text', silent: true, x: 1174, y: 246, style: {text: 'Gene', fill: '#000', fontSize: 23.5, fontFamily: FONT, align: 'left', verticalAlign: 'middle'}},
    {type: 'rect', silent: true, z: -1, shape: {x: 1173, y: 268, width: 37, height: 411}, style: {fill: '#F2F2F2'}},
    {type: 'text', silent: true, x: 25, y: 915, style: {
      text: caption, fill: '#2B2B2B', fontSize: CAP, lineHeight: 26, fontFamily: FONT, align: 'left', verticalAlign: 'top',
      rich: {
        b: {fontWeight: 'bold', fontSize: CAP, fill: '#2B2B2B', fontFamily: FONT, lineHeight: 26},
        l: {fill: '#3B5BD6', fontSize: CAP, fontFamily: FONT, lineHeight: 26}
      }}}
  ],
  series: series
};
chart.setOption(option);
</script>
</body></html>
